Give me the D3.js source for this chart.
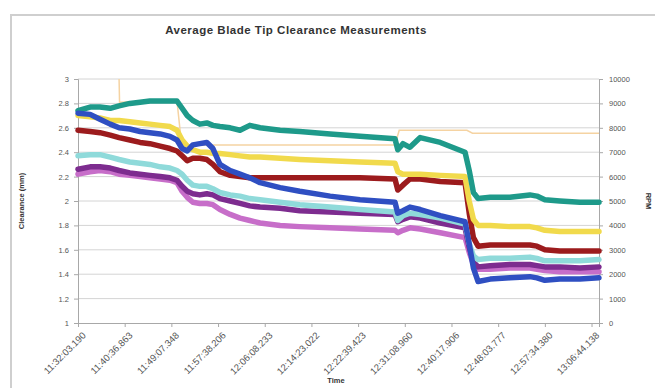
<!DOCTYPE html>
<html>
<head>
<meta charset="utf-8">
<script src="https://cdn.jsdelivr.net/npm/d3@7/dist/d3.min.js"></script>
<style>
  html, body { margin: 0; padding: 0; background: #fff; }
  svg { display: block; font-family: "Liberation Sans", Arial, sans-serif; }
</style>
</head>
<body>
<svg id="chart" width="655" height="388"></svg>
<script>
// Sample numbers (acquisition index) at which each clearance trace is recorded
const sampleIdx = [0, 26, 47, 69, 88, 111, 133, 154, 176, 197, 212, 223, 234, 246, 261, 276, 289, 304,
  326, 347, 368, 390, 433, 475, 540, 604, 679, 685, 696, 711, 733, 776, 829, 838, 847, 857, 883, 925,
  968, 983, 1000, 1032, 1075, 1116];

// Average clearance per probe (mm)
const teal = [2.74, 2.77, 2.77, 2.76, 2.78, 2.80, 2.81, 2.82, 2.82, 2.82, 2.82, 2.76, 2.70, 2.66, 2.63, 2.64,
  2.62, 2.61, 2.60, 2.58, 2.62, 2.60, 2.58, 2.57, 2.55, 2.53, 2.51, 2.42, 2.47, 2.44, 2.52, 2.48, 2.40,
  2.25, 2.07, 2.02, 2.03, 2.03, 2.05, 2.04, 2.01, 2.00, 1.99, 1.99];
const yellow = [2.70, 2.69, 2.68, 2.66, 2.66, 2.65, 2.64, 2.63, 2.62, 2.61, 2.58, 2.50, 2.45, 2.42, 2.40, 2.40,
  2.39, 2.39, 2.38, 2.37, 2.36, 2.36, 2.35, 2.34, 2.33, 2.32, 2.31, 2.24, 2.22, 2.22, 2.22, 2.21, 2.20,
  2.00, 1.85, 1.80, 1.80, 1.79, 1.79, 1.78, 1.76, 1.75, 1.75, 1.75];
const darkRed = [2.58, 2.57, 2.56, 2.54, 2.52, 2.50, 2.48, 2.47, 2.45, 2.43, 2.41, 2.37, 2.33, 2.35, 2.35, 2.34,
  2.30, 2.24, 2.21, 2.20, 2.19, 2.19, 2.19, 2.19, 2.19, 2.19, 2.18, 2.09, 2.13, 2.18, 2.18, 2.16, 2.15,
  1.90, 1.70, 1.63, 1.64, 1.64, 1.64, 1.63, 1.60, 1.59, 1.59, 1.59];
const cyan = [2.37, 2.38, 2.38, 2.36, 2.34, 2.32, 2.31, 2.30, 2.28, 2.27, 2.25, 2.22, 2.17, 2.13, 2.12, 2.12,
  2.10, 2.07, 2.05, 2.04, 2.02, 2.01, 1.99, 1.97, 1.95, 1.93, 1.91, 1.84, 1.88, 1.90, 1.89, 1.86, 1.81,
  1.65, 1.55, 1.52, 1.53, 1.53, 1.54, 1.53, 1.51, 1.51, 1.51, 1.52];
const purple = [2.26, 2.28, 2.28, 2.27, 2.25, 2.23, 2.22, 2.21, 2.20, 2.19, 2.17, 2.12, 2.08, 2.06, 2.05, 2.06,
  2.05, 2.02, 2.00, 1.98, 1.96, 1.95, 1.94, 1.92, 1.91, 1.90, 1.89, 1.83, 1.85, 1.87, 1.86, 1.82, 1.78,
  1.62, 1.50, 1.46, 1.47, 1.48, 1.48, 1.47, 1.46, 1.46, 1.45, 1.46];
const orchid = [2.22, 2.24, 2.25, 2.24, 2.22, 2.21, 2.20, 2.19, 2.18, 2.17, 2.15, 2.08, 2.03, 1.99, 1.98, 1.98,
  1.97, 1.93, 1.89, 1.86, 1.84, 1.82, 1.80, 1.79, 1.78, 1.77, 1.76, 1.74, 1.76, 1.78, 1.77, 1.74, 1.70,
  1.58, 1.48, 1.44, 1.44, 1.45, 1.45, 1.44, 1.43, 1.42, 1.42, 1.42];
const blue = [2.72, 2.71, 2.67, 2.63, 2.60, 2.59, 2.57, 2.56, 2.55, 2.53, 2.50, 2.43, 2.41, 2.46, 2.47, 2.48,
  2.43, 2.30, 2.25, 2.22, 2.19, 2.15, 2.11, 2.08, 2.04, 2.01, 1.99, 1.90, 1.92, 1.95, 1.93, 1.88, 1.83,
  1.65, 1.45, 1.34, 1.36, 1.37, 1.38, 1.37, 1.35, 1.36, 1.36, 1.37];

// Rotor speed (secondary axis)
const rpmIdx = [88, 89, 176, 212, 222, 679, 688, 833, 845, 1116];
const rpm = [10000, 9050, 9100, 9100, 7300, 7300, 7900, 7900, 7780, 7780];

// Time stamps shown every 100 samples
const tickIdx = [0, 100, 200, 300, 400, 500, 600, 700, 800, 900, 1000, 1100];
const timeLabels = ["11:32:03.190", "11:40:36.863", "11:49:07.348", "11:57:38.206", "12:06:08.233",
  "12:14:23.022", "12:22:39.423", "12:31:08.960", "12:40:17.906", "12:48:03.777", "12:57:34.380",
  "13:06:44.138"];

const clearanceTicks = [1, 1.2, 1.4, 1.6, 1.8, 2, 2.2, 2.4, 2.6, 2.8, 3];
const rpmTicks = [0, 1000, 2000, 3000, 4000, 5000, 6000, 7000, 8000, 9000, 10000];

const series = [
  { name: "Probe 7", values: orchid, color: "#c76ec9" },
  { name: "Probe 6", values: purple, color: "#7d2c8f" },
  { name: "Probe 5", values: cyan, color: "#8fdada" },
  { name: "Probe 4", values: darkRed, color: "#9c1b1d" },
  { name: "Probe 2", values: yellow, color: "#f1da4c" },
  { name: "Probe 1", values: teal, color: "#1e9a8a" },
  { name: "Probe 3", values: blue, color: "#2f4fc2" }
];

const svg = d3.select("#chart");
const W = 655, H = 388;
const plot = { left: 78, right: 599, top: 79, bottom: 323 };

svg.append("rect").attr("width", W).attr("height", H).attr("fill", "#fff");
// Chart frame
svg.append("rect").attr("x", 11).attr("y", 15).attr("width", 700).attr("height", 400)
  .attr("fill", "none").attr("stroke", "#cfcfcf").attr("stroke-width", 2);

const x = d3.scaleLinear().domain([0, 1116]).range([plot.left, plot.right]);
const y = d3.scaleLinear().domain([1, 3]).range([plot.bottom, plot.top]);
const y2 = d3.scaleLinear().domain([0, 10000]).range([plot.bottom, plot.top]);

// Gridlines
svg.append("g").selectAll("line").data(clearanceTicks.slice(1)).join("line")
  .attr("x1", plot.left).attr("x2", plot.right)
  .attr("y1", d => y(d)).attr("y2", d => y(d))
  .attr("stroke", "#d4d4d4").attr("stroke-width", 1);

// Left axis
const leftAxis = svg.append("g").attr("transform", `translate(${plot.left},0)`)
  .call(d3.axisLeft(y).tickValues(clearanceTicks).tickSize(4).tickPadding(5).tickFormat(d3.format("~g")));
// Right axis
const rightAxis = svg.append("g").attr("transform", `translate(${plot.right},0)`)
  .call(d3.axisRight(y2).tickValues(rpmTicks).tickSize(4).tickPadding(6).tickFormat(d3.format("d")));
// Bottom axis
const bottomAxis = svg.append("g").attr("transform", `translate(0,${plot.bottom})`)
  .call(d3.axisBottom(x).tickValues(tickIdx).tickSize(4).tickFormat((d, i) => timeLabels[i]));

[leftAxis, rightAxis, bottomAxis].forEach(g => {
  g.select(".domain").attr("stroke", "#a8a8a8");
  g.selectAll(".tick line").attr("stroke", "#a8a8a8");
  g.selectAll("text").attr("fill", "#555").attr("font-size", 7.5);
});
bottomAxis.selectAll("text")
  .attr("text-anchor", "end")
  .attr("dx", 0).attr("dy", 0)
  .attr("transform", "translate(3,8) rotate(-45)")
  .attr("font-size", 9.5);

// RPM trace
const rpmLine = d3.line().x((d, i) => x(rpmIdx[i])).y(d => y2(d));
svg.append("path").datum(rpm).attr("d", rpmLine)
  .attr("fill", "none").attr("stroke", "#f5d3a2").attr("stroke-width", 1.5);

// Clearance traces
const line = d3.line().x((d, i) => x(sampleIdx[i])).y(d => y(d));
svg.append("g").selectAll("path").data(series).join("path")
  .attr("d", d => line(d.values))
  .attr("fill", "none").attr("stroke", d => d.color)
  .attr("stroke-width", 5.5).attr("stroke-linejoin", "round").attr("stroke-linecap", "round");

// Titles
svg.append("text").attr("x", 296).attr("y", 34).attr("text-anchor", "middle")
  .attr("font-size", 11.5).attr("font-weight", "bold").attr("fill", "#333")
  .attr("letter-spacing", 0.5)
  .text("Average Blade Tip Clearance Measurements");
svg.append("text").attr("transform", `translate(24,${(plot.top + plot.bottom) / 2}) rotate(-90)`)
  .attr("text-anchor", "middle").attr("font-size", 7.5).attr("font-weight", "bold").attr("fill", "#333")
  .text("Clearance (mm)");
svg.append("text").attr("transform", `translate(646,${(plot.top + plot.bottom) / 2}) rotate(90)`)
  .attr("text-anchor", "middle").attr("font-size", 7.5).attr("font-weight", "bold").attr("fill", "#333")
  .text("RPM");
svg.append("text").attr("x", 336).attr("y", 383).attr("text-anchor", "middle")
  .attr("font-size", 7.5).attr("font-weight", "bold").attr("fill", "#333")
  .text("Time");
</script>
</body>
</html>
